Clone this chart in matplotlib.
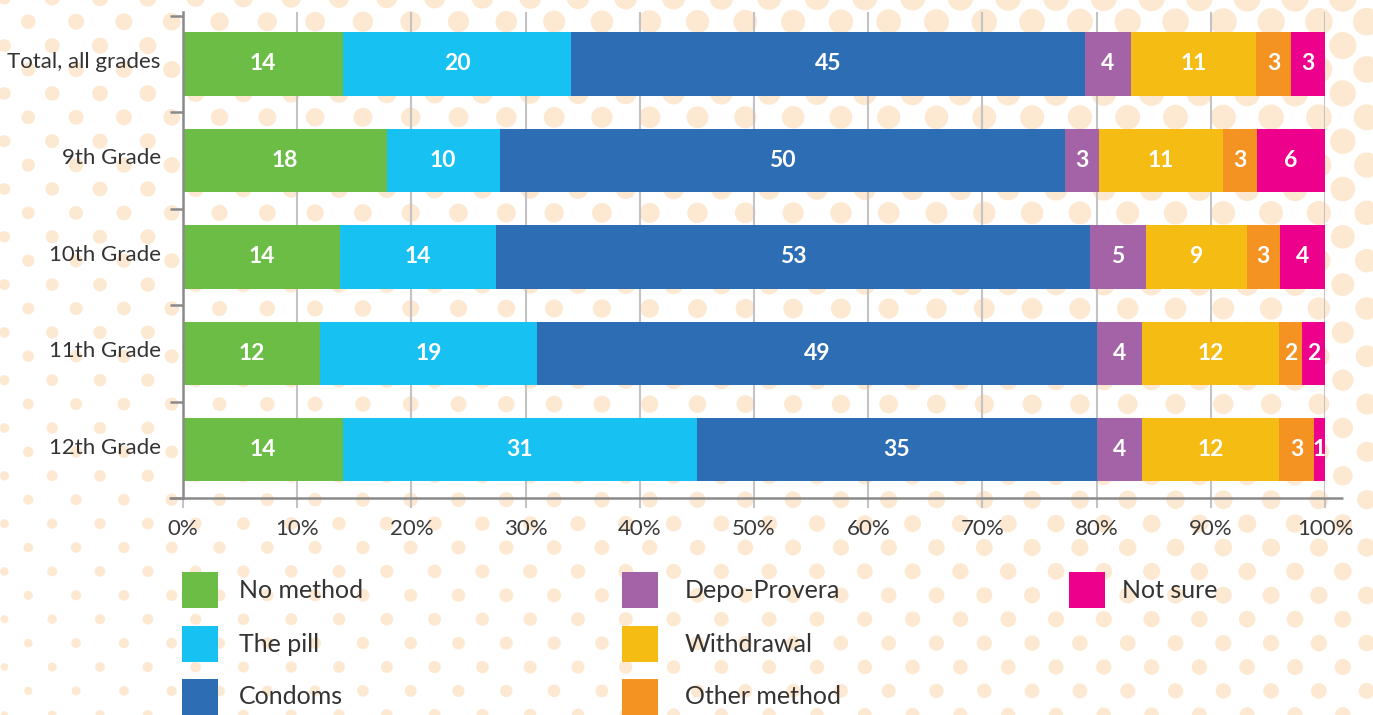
import matplotlib
matplotlib.use("Agg")
import matplotlib.pyplot as plt
import numpy as np
from matplotlib.patches import Circle, Rectangle
from matplotlib.collections import PatchCollection
import matplotlib.transforms as mtransforms

plt.rcParams['font.family'] = ['Lato', 'DejaVu Sans']

# ---------------- data ----------------
categories = ["Total, all grades", "9th Grade", "10th Grade", "11th Grade", "12th Grade"]
methods = ["No method", "The pill", "Condoms", "Depo-Provera",
           "Withdrawal", "Other method", "Not sure"]
no_method = [14, 18, 14, 12, 14]
the_pill = [20, 10, 14, 19, 31]
condoms = [45, 50, 53, 49, 35]
depo_provera = [4, 3, 5, 4, 4]
withdrawal = [11, 11, 9, 12, 12]
other_method = [3, 3, 3, 2, 3]
not_sure = [3, 6, 4, 2, 1]
colors = ["#6cbd45", "#17c1f1", "#2c6db3", "#a563a7",
          "#f5bc14", "#f59322", "#ec008c"]
xticks = [0, 10, 20, 30, 40, 50, 60, 70, 80, 90, 100]

series = np.array([no_method, the_pill, condoms, depo_provera,
                   withdrawal, other_method, not_sure], dtype=float)
totals = series.sum(axis=0)
pct = series / totals * 100.0

W, H = 1373, 715
fig = plt.figure(figsize=(W / 100, H / 100), dpi=100)
fig.patch.set_facecolor('white')

# ---------------- decorative dotted background ----------------
bg = fig.add_axes([0, 0, 1, 1], zorder=0)
bg.set_xlim(0, W)
bg.set_ylim(H, 0)
bg.axis('off')
circles = []
dx, dy = 47.8, 23.9
for k in range(-1, 32):
    yy = 21.7 + dy * k
    x0 = 28.3 if k % 2 == 0 else 28.3 - dx / 2
    for j in range(-1, 31):
        xx = x0 + dx * j
        r = (6.2 + 7.8 * np.sqrt(max(xx, 0) / W)) * (1 - 0.45 * yy / H)
        circles.append(Circle((xx, yy), r))
bg.add_collection(PatchCollection(circles, facecolor='#fde8d1', edgecolor='none'))

# ---------------- main chart ----------------
ax = fig.add_axes([183 / W, 1 - 498 / H, (1325 - 183) / W, (498 - 12) / H], zorder=1)
ax.patch.set_alpha(0)

ypos = np.arange(len(categories))
left = np.zeros(len(categories))
for i, m in enumerate(methods):
    ax.barh(ypos, pct[i], left=left, height=0.657, color=colors[i],
            zorder=3, linewidth=0)
    for yv, lv, wv, val in zip(ypos, left, pct[i], series[i]):
        ax.text(lv + wv / 2, yv, f"{int(val)}", ha='center', va='center',
                color='white', fontsize=16.5, fontweight='bold', zorder=5)
    left += pct[i]

ax.set_xlim(0, 100)
ax.set_ylim(4.5, -0.5 - 3.7 / 96.5)

ax.set_xticks(xticks)
ax.set_xticklabels([f"{v}%" for v in xticks])
ax.xaxis.grid(True, color='#c3c3c3', linewidth=1.5, zorder=1)
ax.set_axisbelow(True)
ax.tick_params(axis='x', length=7.2, width=1.5, color='#c3c3c3', pad=8,
               labelsize=16, labelcolor='#3a3a3a')

ax.set_yticks(ypos)
ax.set_yticklabels(categories)
ax.set_yticks(np.arange(-0.5, len(categories), 1.0), minor=True)
ax.tick_params(axis='y', which='major', length=0, pad=16, labelsize=16,
               labelcolor='#333333')
ax.tick_params(axis='y', which='minor', length=9.4, width=1.8, color='#8a8a8a')
shift = mtransforms.ScaledTranslation(0, 3 / 72, fig.dpi_scale_trans)
for lab in ax.get_yticklabels():
    lab.set_transform(lab.get_transform() + shift)

for s in ['top', 'right', 'bottom']:
    ax.spines[s].set_visible(False)
ax.spines['left'].set_color('#8a8a8a')
ax.spines['left'].set_linewidth(1.8)
ax.spines['left'].set_zorder(4)

# extended x-axis baseline
ax.plot([-1.25, 101.6], [4.5, 4.5], color='#8a8a8a', lw=1.8,
        clip_on=False, zorder=4, solid_capstyle='butt')

# ---------------- legend (3 columns: 3, 3, 1) ----------------
col_x = [182, 622, 1069]
text_x = [239, 685, 1122]
row_y = [572, 626, 679]
sq = 36
for i, m in enumerate(methods):
    cx = col_x[i // 3]
    ry = row_y[i % 3]
    bg.add_patch(Rectangle((cx, ry), sq, sq, facecolor=colors[i],
                           edgecolor='none', zorder=3))
    bg.text(text_x[i // 3], ry + sq / 2, m, ha='left', va='center',
            fontsize=18, color='#333333', zorder=4)

fig.savefig("out.png", dpi=100, facecolor='white')
